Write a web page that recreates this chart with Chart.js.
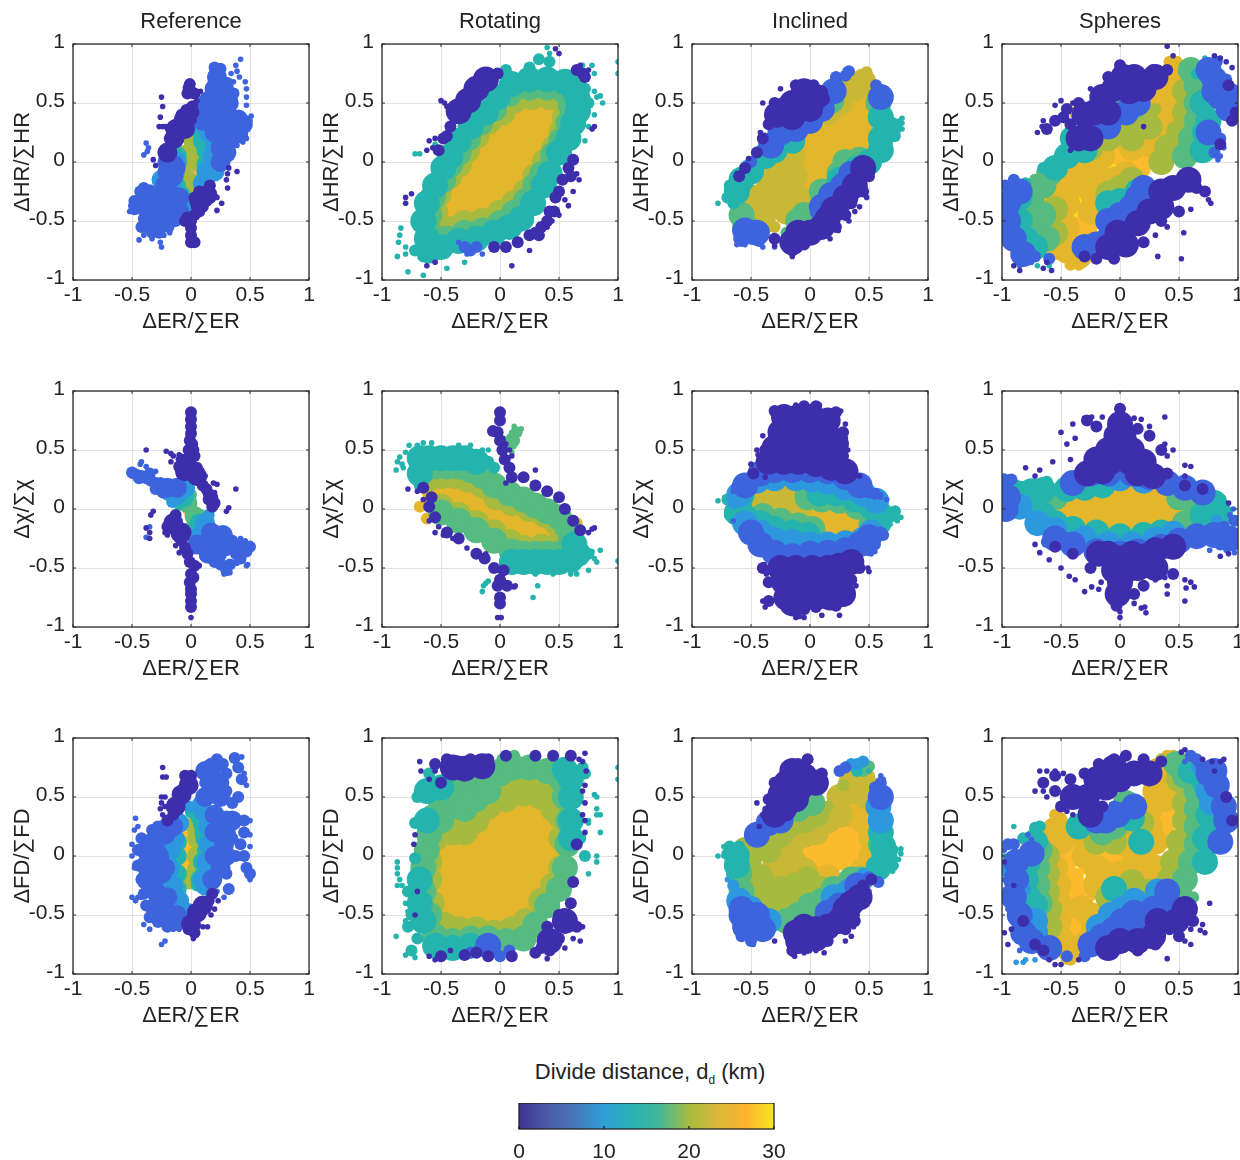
<!DOCTYPE html>
<html>
<head>
<meta charset="utf-8">
<title>Divide asymmetry</title>
<script src="https://cdn.jsdelivr.net/npm/chart.js@4"></script>
<style>
html, body { margin: 0; padding: 0; background: #fff; width: 1240px; height: 1160px; overflow: hidden; }
canvas { position: absolute; filter: blur(0.35px); }
#barTitle { position: absolute; left: 400px; width: 500px; top: 1059px; text-align: center; font: 22px "Liberation Sans", Arial, sans-serif; color: #222; }
#barTitle sub { font-size: 12px; }
</style>
</head>
<body>
<div id="barTitle">Divide distance, d<sub>d</sub> (km)</div>
<script>
const modelNames = ['Reference', 'Rotating', 'Inclined', 'Spheres'];
const xTitle = 'ΔER/∑ER';
const yTitles = ['ΔHR/∑HR', 'Δχ/∑χ', 'ΔFD/∑FD'];
const tickValues = [-1, -0.5, 0, 0.5, 1];
const barTicks = [0, 10, 20, 30];
// colour per divide distance group, low to high (last one sits between olive and gold)
const bandColors = ['#3d2eac', '#3d63dd', '#2e98df', '#25b4ad', '#55bb80', '#a6ba3f', '#e3b62c', '#fcbb2c', '#f7dd20', '#c8b835'];
const barStops = ['#3f3391', '#4a5aa8', '#4878bb', '#2f9fd8', '#26b2b4', '#47b896', '#a5bd40', '#d9b83a', '#fdb42f', '#f5e81e'];

// each row: group, then x,y pairs for dense, medium and sparse parts
const refHR = [
 [0, [-.13,.28,-.06,.36,.14,-.28,.07,-.33,-.14,.2,-.05,.28,-.2,.08], [-.15,.25,-.12,.32,-.08,.35,-.05,.3,-.03,.38,0,.36,.02,.42,-.08,.4,-.14,.18,-.18,.2,-.17,.28,-.11,.2,-.04,.44,.01,.47,-.02,.63,0,.6,-.03,.58,.03,.58,-.01,.66,.03,-.3,.07,-.25,.1,-.3,.13,-.25,.16,-.2,.05,-.38,.1,-.38,.13,-.33,.03,-.45,.07,-.42,0,-.5,-.03,-.47,-.05,-.5,0,-.56,0,-.62,0,-.68,.03,-.68], [-.25,.55,-.24,.47,-.26,.38,-.27,.3,-.24,.3,-.22,.3,.32,-.05,.31,-.1,.3,-.15,.31,-.22,.39,-.08,.22,-.41,.26,-.35,.22,-.3,-.32,.02,-.3,-.03,.05,.52,.02,.56,.08,.6]],
 [1, [-.44,-.36,-.36,-.32,-.28,-.28,-.2,-.22,-.35,-.42,-.27,-.38,-.18,-.32,-.1,-.3,-.3,-.5,-.2,-.45,-.1,-.42,.22,.72,.2,.62,.28,.62,.15,.52,.23,.5,.32,.5,.1,.42,.1,.35,.2,.38,.3,.38,.4,.36,.44,.32,.2,.25,.3,.25,.4,.24,.3,.18,-.15,-.12,.25,.12,-.2,-.08,-.13,-.05,.06,.45,-.2,0,.25,0,.3,.08], [-.48,-.33,-.48,-.4,-.4,-.22,-.4,-.48,-.42,-.55,-.33,-.6,-.36,-.56,-.27,-.6,-.24,-.55,-.19,-.55,-.13,-.5,-.43,-.25,-.35,-.24,-.25,-.18,-.2,-.12,-.15,-.07,-.12,0,.36,.58,.31,.67,.25,.79,.2,.8], [-.44,-.66,-.4,-.62,-.25,-.72,-.26,-.68,-.23,-.62,-.18,-.6,.42,.87,.38,.82,.39,.77,.34,.75,.46,.68,.47,.62,.47,.55,.47,.48,.41,.72,.36,.68,.38,.6,.37,.55,.5,.35,.51,.39,.47,.2,.44,.17,.39,.14,.35,.13,-.38,.16,-.36,.12,-.4,.06,-.37,.09,-.52,-.42,-.51,-.37,-.33,-.65]],
 [2, [-.14,-.1,-.17,-.2,-.1,-.3,.18,.05,.2,.15,.15,.25,.1,.33,-.22,-.28,-.13,-.38,-.05,-.38,-.25,-.15,.25,.05,.25,.2,.2,.32,.15,.38,.08,.42,.02,.35,-.12,0,.13,-.08,.1,-.18,.2,-.08], [-.05,-.42,-.22,-.2,.26,.12,.05,.38,-.18,-.05,.14,-.05], []],
 [3, [-.13,-.2,-.09,-.28,-.15,-.08,-.12,.05,.13,-.02,.13,.1,.1,.18,.08,.28,0,.3], [-.07,-.28,-.13,-.05,.13,0,.05,.3,-.13,.1], []],
 [5, [-.08,-.03,-.06,.06,-.05,-.13,.02,-.18,.06,0,.05,.1,.02,.18,-.03,-.22], [.01,.25,.05,.13,-.05,-.27,-.1,.08], []],
 [7, [-.03,0,-.03,-.06], [-.04,-.13,-.06,.03,-.01,.12,.01,-.03,-.03,.08], []]
];
const rotHR = [
 [0, [-.12,.7,-.2,.62,-.27,.52,-.35,.43], [.47,-.3,.53,-.15,.58,-.05,.42,-.42,.35,-.55,.25,-.62,.15,-.68,.05,-.72,-.05,-.72,.4,-.5,.5,-.25,.3,-.6,-.42,.3,-.45,.22,-.02,.75,-.3,.53,-.48,.2,-.52,.1,.62,.02,.6,-.12,.46,-.42,.33,-.62,.65,.78,.7,.75,.72,.72], [-.5,.52,-.47,.5,-.45,.47,-.6,.18,-.57,.12,-.55,.2,-.75,-.27,-.8,-.3,-.8,-.35,-.62,.1,.65,-.1,.67,-.15,.62,-.25,.58,-.37,.55,-.32,.5,-.45,.44,-.5,.4,-.55,.1,-.88,.5,.92,.47,.96,.75,.78,.68,.82,.8,.3,.78,.28,-.62,-.88,-.55,-.85,.25,-.75]],
 [1, [], [-.3,-.72,-.25,-.75,-.2,-.72], [-.35,-.68,-.15,-.78,-.28,-.78]],
 [3, [-.62,-.65,-.65,-.5,-.62,-.35,-.55,-.2,-.48,-.05,-.42,.05,-.35,.18,-.25,.3,-.12,.42,-.02,.55,.1,.66,.25,.7,.4,.7,.55,.68,.62,.62,.66,.53,.66,.43,.62,.33,.58,.2,.5,.08,.42,-.1,.37,-.2,.28,-.35,.18,-.48,.08,-.55,-.05,-.6,-.2,-.65,-.35,-.67,-.5,-.72,-.6,-.75], [.25,.8,.42,.85,.33,.87,-.72,-.75,-.65,-.8,.05,.78,.75,.5,.72,.62], [-.87,-.8,-.85,-.62,-.86,-.68,-.84,-.56,-.8,-.72,-.8,-.78,-.78,-.93,-.65,-.96,-.55,-.82,-.45,-.9,-.3,-.85,.8,.6,.82,.55,.87,.5,.85,.56,.8,.75,.78,.82,1,.85,1,.75,.8,.4,.75,.3,.72,.18,.42,.92,.4,.97,.7,.82,-.68,.07,-.72,.07,-.55,.15]],
 [4, [-.58,-.62,-.6,-.45,-.57,-.3,-.48,-.15,-.42,-.02,-.35,.08,-.27,.2,-.17,.33,-.05,.45,.08,.58,.25,.63,.4,.63,.55,.6,.6,.48,.58,.33,.52,.18,.45,.06,.36,-.1,.3,-.2,.22,-.33,.12,-.43,0,-.52,-.15,-.58,-.3,-.6,-.45,-.65], [.1,-.55,-.6,-.72,-.48,-.72], []],
 [5, [-.55,-.58,-.55,-.42,-.52,-.27,-.43,-.12,-.35,-.02,-.28,.1,-.2,.22,-.1,.34,.02,.42,.12,.52,.27,.55,.42,.55,.55,.52,.55,.38,.52,.25,.46,.12,.38,0,.3,-.12,.22,-.25,.12,-.35,0,-.43,-.15,-.5,-.3,-.52,-.42,-.57], [-.52,-.68,-.6,-.65], []],
 [6, [-.52,-.45,-.5,-.32,-.42,-.2,-.42,-.42,-.33,-.12,-.33,-.33,-.35,-.48,-.25,-.22,-.22,-.4,-.25,-.05,-.15,.08,-.15,-.08,-.12,-.25,-.05,.22,-.05,.05,-.02,-.12,-.05,-.32,.05,.3,.05,.15,.05,0,.07,-.18,.15,.4,.15,.25,.15,.08,.15,-.08,.25,.45,.25,.3,.25,.15,.22,0,.35,.45,.35,.3,.35,.15,.45,.4,.45,.27,.42,.12,-.45,-.3], [-.52,-.6,-.47,-.62,.4,.5,.52,.45], [-.3,-.12,.1,.3,.3,.42,-.02,.3]],
 [7, [-.5,-.35,-.4,-.3,-.3,-.25,-.2,-.15,-.1,-.05,0,.05,.1,.1,.2,.15,.28,.3,.45,.2], [-.55,-.42,-.42,-.42,-.5,-.25,.15,.3,.38,.15,.52,.3,-.05,.15], []],
 [8, [], [-.45,-.25,-.35,-.2,-.1,0,-.05,.08,.02,-.02,-.18,-.28,.25,.32], [-.4,-.15,-.3,-.3,.1,.2,.3,.1]]
];
const incHR = [
 [0, [-.05,.6,.05,.55,-.15,.5,-.28,.4,-.15,.38,0,.45,-.2,.45,.1,-.55,0,-.6,-.1,-.6,.2,-.4,.3,-.3,.38,-.2,.45,-.05,-.15,-.68,.15,-.48], [-.12,.65,.03,.65,.1,.6,-.3,.5,-.35,.32,-.4,.2,-.45,.08,-.55,-.05,-.6,-.12,.5,-.12,.45,-.25,.35,-.35,.3,-.45,.22,-.55,-.05,-.7,-.15,-.75,-.3,-.65,.12,.53], [-.42,.25,-.52,.03,-.62,-.1,-.15,-.8,-.14,-.76,-.3,-.71,.17,-.65,.2,-.55,.24,-.58,.33,-.5,.38,-.42,.42,-.38,.48,-.3,.5,-.05,-.4,.5,-.25,.62]],
 [1, [-.33,.14,-.25,.25,-.12,.28,0,.35,.1,.45,.2,.6,.28,-.2,.18,-.28,.1,-.38,.35,-.1,-.55,-.58,-.45,-.6,.6,.55], [-.38,.2,-.5,0,-.2,.35,.22,.72,.3,.73,.33,.77,.56,.65,.62,.6,.05,-.43,.22,-.32,-.5,-.65,-.58,-.67,-.6,-.65,-.43,-.67], [-.62,-.7,-.55,-.7,-.4,-.72,-.3,-.72,.3,.78,.25,.7]],
 [3, [-.62,-.25,-.58,-.15,-.5,-.08,-.38,.05,-.3,.1,-.15,.18,.6,.2,.66,.28,.6,.1,.5,0,.4,-.05,.25,-.15,.6,.38], [-.7,-.3,-.68,-.2,-.65,-.35,-.22,.25,.12,-.28,.35,-.1,.7,.33,.72,.22,.72,.28], [.78,.37,.78,.33,.78,.28,.76,.35,.76,.3,-.78,-.35,.42,-.12]],
 [4, [-.15,.3,0,.35,.1,.45,.18,.52,-.05,-.45,.1,-.25,.25,-.1,-.1,-.5,-.55,-.55,-.58,-.45,.3,0,.42,.02,.58,.5], [-.05,.38,.12,.55,-.1,-.58,-.2,-.6,.62,.5,.6,.6,-.6,-.58], []],
 [9, [-.55,-.4,-.5,-.5,-.4,-.5,-.45,-.3,-.35,-.15,-.35,-.35,-.25,-.05,-.25,-.25,-.2,-.42,-.15,.05,-.13,-.12,-.1,-.3,.15,.42,.25,.5,.3,.6,.38,.62,.45,.68], [-.58,-.48,-.3,-.55,.48,.76,.42,.72], []],
 [6, [-.05,.12,0,-.05,0,-.2,.05,.22,.1,.05,.1,-.1,.15,.3,.2,.15,.3,.35,.3,.2,.4,.45,.5,.55,.5,.4,.42,.28,.52,.38,.45,.15], [-.4,-.45,-.25,-.15,-.45,-.25], []],
 [7, [.05,.02,.1,.1,.2,.1,.25,.25,.35,.3,.45,.35], [-.5,-.42,-.55,-.42,-.45,-.5,.38,.42,.5,.42,.4,.55,.08,.18,.18,.22,-.3,-.12,-.4,-.27], []],
 [8, [], [.08,.03,.13,.08,.2,.2,.27,.18], []]
];
const sphHR = [
 [0, [-.3,.4,-.22,.42,-.15,.55,-.05,.62,.03,.72,.08,.6,.2,.62,-.1,.42,-.35,.2,-.25,.2,.3,.72,.05,-.7,-.1,-.72,-.02,-.6,.15,-.52,.25,-.42,.35,-.38,.45,-.22,.58,-.15,.35,-.25,.12,.72], [-.55,.35,-.42,.32,-.48,.38,-.36,.38,.65,-.22,.62,-.15,-.62,.28,-.45,.45,-.35,.5,-.1,.72,0,.82,.1,.77,.28,.78,.4,.78,-.3,-.8,-.2,-.82,-.05,-.82,.2,-.68,.35,-.5,.5,-.42,.72,-.25,.85,.15,.95,.35,.98,.42,.92,.65], [-.66,.3,-.7,.25,-.65,.35,-.55,.48,-.5,.52,-.4,.5,-.25,.62,.8,.9,.85,.88,.9,.85,.95,.8,.4,.98,.45,.9,.32,-.8,.54,-.6,.52,-.82,.3,-.62,.4,-.55,.75,-.32,.77,-.35,.6,-.4,-.65,-.9,-.58,-.92,-.85,-.92,-.9,-.88,-.62,-.85,.2,.3,-.42,.1]],
 [1, [-.95,-.35,-.95,-.5,-.9,-.65,-.85,-.25,-.82,-.78,.8,.7,.85,.55,.92,.45,.95,.55,.8,.6,.75,.78,.75,.25,-.1,-.5,0,-.45,.1,-.38,.15,-.3,.2,-.22,-.2,-.7,-.3,-.72,-.25,.25,-.1,.3,.05,.42,.15,.5], [-.97,-.2,-.9,-.15,-.72,-.8,-.6,-.82,.85,.2,.8,.08,.82,.85,.9,.7,-.15,-.62], [-.85,-.88,-.75,-.85,-.97,-.28,.85,.05,.83,.02,.88,.12]],
 [3, [-.85,-.3,-.85,-.5,-.8,-.65,-.72,-.72,-.55,-.05,-.45,.05,-.3,.1,.7,.1,.7,.5,.75,.35,.72,.25,-.1,-.35,0,-.33,.15,-.25,-.4,.2], [-.8,-.18,.65,.75,.72,.72,-.65,-.05], [-.98,-.4,.72,.88,-.7,-.88,-.6,-.88]],
 [4, [-.75,-.35,-.75,-.5,-.72,-.65,-.65,-.2,-.6,-.1,-.62,-.65,-.65,-.45,.65,.65,.65,.5,.65,.35,.6,.2,.65,.12,.55,.05,.6,.78], [.08,.5,.15,.42,-.72,-.15,-.05,.53,.12,.68], []],
 [5, [-.1,.2,0,.28,.1,.3,.2,.4,.25,.3,.55,.6,.55,.42,.5,.25,.4,.12,.35,0,-.55,-.6,-.55,-.4,-.1,-.27,0,-.22,.1,-.15,-.25,.12,.1,.2], [-.2,.28,-.3,.4,.3,.45,.58,.82], []],
 [6, [-.55,-.15,-.58,-.3,-.55,-.5,-.55,-.72,-.45,-.05,-.45,-.75,-.35,-.8,-.4,-.15,.35,.55,.45,.75,.45,.6,.4,.45,.3,.2,.25,.15,.35,.35,.45,.45,.5,.68,-.15,.05,-.2,-.1,-.3,-.1,-.05,-.15,.05,-.1,-.22,-.3,.1,.12,.2,.25,-.3,-.2,-.25,-.42,-.35,-.05,-.45,-.35,-.45,-.55], [-.62,-.05,-.5,.07,-.38,.42,-.3,.42,-.28,.32,.25,-.4,.28,-.47,.42,.85,.48,.85,-.42,-.87,-.35,-.87], []],
 [7, [-.5,-.3,-.5,-.45,-.5,-.6,-.42,-.68,-.35,-.7,-.3,-.55,-.35,-.15,-.2,-.2,.2,.05,.15,-.05,.1,.05,0,.08,.3,.25,.4,.4,.4,.52], [.45,.55,.5,.55,.05,.15,-.1,-.1,.12,-.1], []],
 [8, [-.4,-.4,-.3,-.35], [-.35,-.25,-.4,-.55,-.28,-.45,-.05,-.05,0,0,.08,.03,-.03,-.1,.04,.1,-.25,-.2,-.36,-.32,.38,.5], []]
];
const refChi = [
 [0, [.05,.28,-.05,.32,-.15,-.12,-.08,-.2], [0,.82,0,.76,0,.7,0,.64,-.01,.58,.01,.55,-.02,.5,.02,.5,-.01,.45,.03,.45,-.08,.42,-.05,.38,-.1,.36,0,.38,.05,.35,-.08,.3,-.03,.3,.03,.3,.08,.25,.1,.2,.13,.17,.15,.13,.18,.1,.2,.05,.18,.02,.15,.08,-.13,-.05,-.17,-.1,-.2,-.15,-.15,-.17,-.12,-.22,-.08,-.27,-.05,-.33,-.03,-.38,-.01,-.45,.03,-.48,0,-.55,.02,-.58,-.01,-.62,0,-.68,0,-.72,0,-.78,0,-.83], [-.38,.5,-.21,.49,-.17,.47,.19,.22,.22,.21,.38,.17,.32,.01,.3,-.02,-.32,-.02,-.34,-.05,-.38,-.16,-.35,-.2,-.35,-.25,-.22,-.2,-.2,-.22,-.13,-.31,-.12,-.26,-.1,-.37,0,-.92,.07,-.48,.09,.33,.12,.28,.2,.14,.17,.05,-.15,.45,-.1,.46,-.17,.4]],
 [1, [-.2,.18,.17,-.2,.2,-.3,.1,-.3,.3,-.3,.15,-.38,.22,-.38,.05,-.3,.27,-.22,-.12,.18], [-.5,.31,-.46,.29,-.42,.28,-.38,.26,-.34,.24,-.3,.22,-.26,.22,-.22,.2,-.18,.18,-.44,.26,-.3,.17,-.24,.14,-.35,.3,.3,-.22,.35,-.27,.4,-.3,.45,-.32,.5,-.32,.47,-.36,.38,-.38,.3,-.35,.25,-.47,.3,-.52,.33,-.47,.2,-.45,.42,-.42,.12,-.4,.26,-.3], [-.5,.28,-.47,.26,-.42,.4,-.43,.38,-.38,.36,-.3,.32,.47,-.48,.48,-.47,.44,-.44,.37,-.45,.39,-.46,.33,-.54,.28,-.55,.5,-.29,.46,-.27,.42,-.25,-.38,-.24,-.35,-.15]],
 [2, [-.12,.12,.12,-.12,.08,-.22,-.05,.18], [-.2,.12,.2,-.18,.25,-.22,-.16,.06,-.06,.17,.15,-.05], []],
 [3, [-.06,.1,.07,-.12], [-.08,.1,.08,-.1,-.1,.04,.09,-.16,-.03,.14,.05,-.18], []],
 [4, [-.03,.05,.03,-.06], [0,.12,.05,-.12,.08,-.05,-.07,.07,0,-.15], []],
 [7, [], [-.03,.03,0,-.03,.03,-.06,-.02,-.01,-.03,.06], []]
];
const rotChi = [
 [0, [], [0,.82,0,.75,-.02,.65,0,.58,-.06,.66,.02,.5,.04,.42,.08,.35,.1,.27,.2,.27,.3,.2,.4,.15,.5,.1,.55,0,.62,-.1,.68,-.18,-.6,.02,-.55,-.07,-.45,-.2,-.35,-.25,-.2,-.38,-.13,-.42,-.65,.18,-.58,.1,-.05,-.5,.03,-.52,0,-.6,-.02,-.65,.06,-.65,0,-.75,0,-.8], [-.78,.17,-.7,.15,-.65,.08,-.6,-.1,-.55,-.2,-.52,-.15,-.48,-.22,-.4,-.25,-.28,-.33,-.12,-.38,.12,-.66,.13,-.65,-.02,-.92,.01,-.92,.78,-.17,.8,-.16,.75,-.2,.02,.6,.05,.55,.08,.5,.1,.45,.3,.33,.05,.22]],
 [3, [-.68,.43,-.6,.43,-.5,.43,-.4,.43,-.3,.43,-.2,.4,-.68,.3,.1,-.45,.2,-.45,.3,-.45,.4,-.45,.5,-.45,.6,-.43,.66,-.38,.63,-.3], [-.1,.4,-.05,.35,.75,-.38,-.68,.2], [-.85,.44,-.87,.4,-.83,.38,-.88,.33,-.8,.48,-.82,.35,-.77,.54,-.7,.54,-.65,.56,-.58,.56,-.35,.54,-.25,.54,-.15,.5,-.1,.5,.8,-.42,.78,-.36,.85,-.35,.82,-.45,.75,-.52,.6,-.55,.65,-.55,.45,-.55,.3,-.55,.28,-.75,.32,-.65,1,-.44,-.12,-.63,-.14,-.65,-.15,-.7,-.1,-.61]],
 [4, [-.65,.33,-.55,.36,-.45,.36,-.35,.36,-.25,.33,-.15,.28,-.05,.2,.08,.13,.2,.08,.3,.03,.4,-.02,.5,-.07,.57,-.15,.6,-.25,.6,-.35,.5,-.38,.4,-.38,.3,-.38,.2,-.38,.1,-.36,-.05,-.27,-.2,-.18,-.35,-.1,-.5,-.03], [.12,.58,.14,.65,.1,.6,.03,.57,.1,.55], [.15,.67,.18,.68,.12,.7,.1,.65,.1,.48]],
 [5, [-.62,.25,-.5,.28,-.38,.28,-.27,.25,-.15,.2,-.03,.1,.1,.05,.25,0,.38,-.05,.48,-.12,.53,-.25,.5,-.32,.35,-.32,.2,-.33,.08,-.28,-.05,-.2,-.2,-.12,-.35,-.05,-.5,.02], [], []],
 [6, [-.55,.15,-.45,.2,-.35,.18,-.25,.15,-.45,.08,-.33,.07,-.2,.05,-.1,.07,-.22,-.04,-.1,-.05,-.05,-.12,0,0,.02,-.13,.12,-.05,.12,-.18,.23,-.08,.23,-.2,.33,-.1,.33,-.22,.43,-.17,.45,-.25,-.55,.07], [.62,-.1,.65,-.12,-.68,.02,-.62,-.08], []],
 [7, [-.4,.13,-.2,.08,0,-.03,.2,-.12], [-.5,.18,-.3,.2,-.1,.05,.1,-.05,.3,-.15,.4,-.15,.05,-.2,-.45,.05,-.25,-.02,.45,-.2,-.55,.18], []],
 [8, [], [-.35,.08,-.2,.1,-.12,.02,-.02,.05,.1,-.1,.18,-.08,.3,-.12,.22,-.15], []]
];
const incChi = [
 [0, [-.22,.78,-.1,.78,.02,.78,.15,.75,-.25,.65,-.12,.65,0,.65,.15,.62,.22,.55,-.3,.52,-.18,.52,-.05,.52,.08,.5,.2,.45,-.35,.4,-.22,.4,-.1,.4,.05,.38,.18,.35,.3,.32,-.25,-.5,-.12,-.5,.02,-.5,.15,-.5,.25,-.48,.35,-.45,-.22,-.62,-.1,-.62,.03,-.62,.15,-.6,.25,-.62,-.2,-.75,-.07,-.75,.05,-.75,.17,-.75,-.15,-.8,.28,-.72], [-.3,.83,-.05,.87,.05,.87,.22,.82,.28,.65,.28,.45,-.38,.5,-.48,.3,-.4,-.5,-.35,-.62,-.35,-.78,.35,-.6,.42,-.5,.22,-.82,-.05,-.85,.05,-.83], [-.12,.88,-.05,.88,.08,.88,.26,.83,.3,.72,.3,.6,.32,.5,.42,.28,-.45,.5,-.44,.46,-.5,.38,-.38,.27,-.4,.62,.5,-.53,.49,-.5,.35,-.7,.39,-.65,-.05,-.92,-.12,-.92,-.09,-.91,.1,-.9,.25,-.9,-.4,-.78,-.38,-.83,-.39,-.47,-.37,-.55]],
 [1, [-.42,.3,-.3,.33,-.15,.33,0,.33,.15,.32,.3,.27,-.55,.2,.42,.2,-.42,-.3,-.3,-.37,-.15,-.4,0,-.38,.15,-.37,.3,-.35,.42,-.3,.5,-.24,-.5,-.2], [.5,.14,.55,.13,.6,-.2,.62,-.22,-.58,.25,-.62,.18,-.3,-.43,.1,-.42,.3,-.4,.5,-.35,.55,-.3], [.52,-.38,.55,-.36,-.65,.15,-.65,-.1,.6,.1,.6,.12,.65,.08]],
 [2, [-.6,.12,-.45,.24,-.3,.26,-.12,.26,.02,.25,.15,.23,.3,.18,.45,.13,.56,.07,-.55,-.12,-.42,-.2,-.3,-.26,-.15,-.28,0,-.3,.15,-.3,.3,-.29,.45,-.26,.52,-.2], [.6,.02,-.65,.05], []],
 [3, [-.6,.05,-.62,-.03,-.55,-.07,-.42,-.12,-.3,-.17,-.15,-.2,-.02,-.22,.08,.13,.22,.13,.38,.08,.52,.02,.6,-.05,.58,-.12,-.58,.12], [-.7,.08,.7,-.06,-.68,-.05,.72,-.02], [-.72,.1,-.78,.07,.77,-.07,.74,-.1,.68,-.13]],
 [4, [-.02,.1,.1,.08,.25,.07,.4,.02,.53,-.04,.52,-.13,-.4,-.06,-.25,-.1,-.1,-.14,.02,-.17], [-.08,.17], []],
 [9, [-.5,.03,-.42,.1,-.32,.12,-.22,.12,-.42,0,-.32,0,-.2,.02,-.12,.08,-.1,-.02], [-.38,.18,-.28,.19,-.15,.14,-.58,.05], []],
 [6, [0,0,.1,0,.2,-.02,.3,-.03,.42,-.05,.5,-.08,.03,-.1,.13,-.13,.23,-.15,.33,-.15,.43,-.15], [], []],
 [7, [.1,-.05,.28,-.06], [.2,-.06,.4,-.05,.25,-.12,.48,-.08,.15,-.02,.35,-.03,-.4,.05,-.5,.02], []]
];
const sphChi = [
 [0, [0,.72,-.03,.62,.03,.6,-.1,.5,0,.5,.1,.5,-.2,.42,-.08,.4,.08,.4,.2,.4,-.28,.3,-.15,.32,.15,.3,.28,.28,-.1,-.38,0,-.42,.1,-.38,.22,-.4,-.18,-.38,-.05,-.52,.05,-.52,0,-.62,-.02,-.72,.15,-.5,.3,-.5,.3,-.35,.45,-.32], [0,.85,-.28,.75,-.2,.7,.15,.68,.25,.62,.35,.5,.4,.3,.55,.2,.7,.17,-.55,-.32,-.4,-.38,-.25,-.5,.45,-.55,.2,-.65,.12,-.72,-.03,-.82], [-.5,.65,-.45,.55,-.38,.6,-.42,.42,-.57,.4,-.68,.33,-.72,.28,-.4,.72,-.3,.77,-.24,.78,-.15,.78,.12,.77,.18,.76,.38,.78,.25,.7,.38,.55,.45,.5,.4,.45,.55,.37,.6,.36,-.8,.35,.55,.28,.92,.05,-.72,-.3,-.68,-.37,-.6,-.43,-.5,-.5,-.43,-.57,-.38,-.6,-.3,-.7,-.24,-.66,-.18,-.68,-.16,-.62,0,-.92,0,-.87,-.02,-.82,.12,-.8,.18,-.84,.21,-.83,.22,-.88,.3,-.6,.38,-.58,.4,-.65,.4,-.72,.55,-.6,.56,-.67,.6,-.62,.63,-.66,.55,-.78,.92,-.38,.85,-.4]],
 [1, [-.4,.22,-.25,.3,-.1,.3,.1,.3,.25,.27,.4,.22,.55,.18,.7,.14,-.55,-.25,-.4,-.3,-.2,-.36,0,-.38,.15,-.36,.35,-.32,.5,-.27,.65,-.23,.8,-.22,.93,-.25,-.95,.1,-.97,0], [-.98,.22,-.92,.25,.85,-.3,.97,-.3,.75,.15,-.62,-.28,.55,-.3,.88,-.15,.97,-.1], [-.98,.28,-.95,.27,.9,-.35,.97,-.37,.96,0,.93,-.05,.76,-.35]],
 [2, [-.85,.02,-.7,-.12,-.55,-.18,-.3,-.25,-.1,-.3,.1,-.3,.3,-.26,.45,-.21,0,.26,.2,.24], [-.95,-.02,-.98,.05,.82,-.1,.62,-.2], []],
 [3, [-.85,.13,-.75,.15,-.65,.16,-.75,.05,-.65,-.05,-.55,-.12,-.9,.1,-.45,.17,-.3,.18,-.15,.2,.7,-.05,.8,.05,.75,-.12,.85,-.05,-.4,-.17,-.2,-.2,0,-.23,.2,-.22,.35,-.2], [-.98,.02,-.88,.2,-.62,.23,.85,.08,.88,-.02,.15,.25], []],
 [4, [-.72,.1,-.62,.1,-.55,.1,.6,.08,.72,.06,.65,-.08,.5,.1,.55,-.12], [-.78,.03,-.7,-.01,.8,-.04,.65,.12], []],
 [6, [-.52,.05,-.45,.08,-.35,.1,-.25,.12,-.45,-.03,-.35,-.06,-.25,-.08,-.15,.13,-.15,0,-.15,-.1,-.02,.13,.1,.13,.22,.12,-.02,0,.1,0,.22,0,.33,.05,.45,.03,.52,-.02,.33,-.06,.45,-.08,0,-.12,.1,-.12,.25,-.1], [.08,.22,.03,.24,.15,.2,.52,.05,-.55,-.03], []],
 [5, [.02,-.05,.12,-.08], [.05,-.03,.18,-.12,-.02,-.15], []],
 [7, [-.4,.03,-.3,.02,.15,.12,.35,-.02], [-.45,.1,-.2,.08,-.1,.14,.02,.18,.25,.08,.45,-.03,.4,.02,-.25,-.1], []],
 [8, [.3,.02], [-.35,.07,-.25,.03,-.12,.1,.12,.12,.05,.1,.2,.04,.28,.06,.36,.03,-.4,0], []]
];
const refFD = [
 [0, [-.02,.6,-.08,.52,-.13,.42,.05,-.48,0,-.58,.1,-.42], [0,.68,-.05,.68,-.15,.35,-.2,.3,.03,-.65,-.02,-.62,.15,-.38,.18,-.32], [-.24,.75,-.24,.67,-.21,.67,-.25,.5,-.22,.5,-.25,.45,-.26,.4,-.22,.42,-.24,.35,.02,-.7,.14,-.6,.17,-.5,.2,-.45,.23,-.38,.1,-.6]],
 [1, [-.38,.05,-.38,-.08,-.38,-.2,-.32,.12,-.3,-.3,-.3,-.45,-.27,0,-.25,-.15,-.2,-.5,-.13,-.55,-.22,.18,.12,.72,.18,.75,.17,.62,.24,.62,.12,.5,.25,.5,.2,.35,.3,.3,.2,.2,.28,.1,.2,0,.25,-.1,.18,-.2,.3,0,-.3,-.15,-.3,.05,-.28,-.4,-.22,-.1,-.2,-.35,-.12,-.5,-.15,.25,.25,.25,.35,.3], [.45,.2,.42,.1,.45,0,.47,-.1,.5,-.15,.45,.3,.38,.3,.35,.15,.38,0,.35,.45,.3,.55,.4,.5,.43,.65,.4,.75,.37,.83,.3,.7,.27,.78,.22,.82,-.45,.05,-.45,-.08,-.42,-.2,-.4,-.32,-.38,-.42,-.35,-.52,-.28,-.56,-.2,-.6,-.42,.15,-.33,.22,-.28,.25,-.15,.3,.33,.2,.3,-.15,.32,-.28,.12,.62], [-.5,.1,-.5,0,-.48,-.1,-.47,.32,-.48,.22,-.5,-.35,-.45,-.35,-.47,-.38,-.42,-.35,-.4,-.58,-.35,-.62,-.25,-.75,-.22,-.72,-.15,-.62,-.1,-.62,.5,.3,.5,.18,.5,.08,.5,-.2,.45,.7,.47,.6,.43,.84,.38,.84,.22,-.3,.28,-.35,-.25,.28,-.45,.25]],
 [2, [-.17,.05,-.18,-.1,-.15,-.25,-.1,-.38,-.08,-.48,.1,.38,.15,.25,.15,.1,.13,-.05,.1,-.2,-.2,-.2,-.14,.15,-.1,.28,.17,.3,.17,-.1,.12,-.25,-.22,0,-.2,-.35], [-.12,.22,-.12,.1,-.02,.42,.06,.45,-.22,-.3,-.02,-.45], []],
 [3, [-.12,-.15,-.12,-.28,.12,.15,.1,.28,.1,-.05,.08,-.2,-.12,0,-.12,.12], [.05,.32,.08,.2,.1,.05,.08,-.15,.05,-.25,-.1,-.32,-.12,-.25,.1,-.1,-.12,.28,0,.37], []],
 [5, [.03,.26,.05,.15,.05,0,.05,-.12,-.02,-.2], [.02,.28,.03,.35,.02,-.18,-.1,-.3,-.1,.28,-.1,-.2], []],
 [7, [-.05,.12,-.05,.03,-.05,-.06,-.05,-.14], [-.08,.25,-.08,-.03,-.09,.22,-.03,-.2], []]
];
const rotFD = [
 [0, [-.3,.74,-.15,.76,-.4,.75,.42,-.72,.55,-.55], [.35,-.78,.5,-.5,.6,-.4,.4,-.6,-.45,.82,-.35,.8,-.25,.82,-.1,.82,.05,.85,.3,.85,.45,.85,.6,.85,-.55,.78,-.5,.62,.42,-.8,.3,-.82,.1,-.85,-.1,-.85,-.2,-.82,-.3,-.84,-.5,-.85,.62,-.22,.65,.1,.65,-.6,.5,-.7], [-.68,.8,-.67,.72,-.55,.72,-.6,.65,.72,.87,.67,.82,.7,.8,.73,.72,.72,.6,.7,.55,.72,.45,.7,.35,.72,.3,.72,.2,.7,-.6,.68,-.72,.62,-.7,.55,-.78,.4,-.87,-.72,.18,-.73,.1,-.7,-.3,-.72,-.5,-.6,-.85,-.55,-.88,-.42,-.8]],
 [1, [-.1,-.76], [-.25,-.82,-.18,-.8,0,-.85,.08,-.8], []],
 [3, [-.62,.55,-.5,.58,-.62,.3,-.65,-.55,-.55,-.76,-.4,-.78,-.25,-.76,.6,.3,.6,.15,.6,.5,.6,.65,.55,.73,-.68,-.4,-.68,-.2], [-.72,-.02,-.78,-.3,-.75,-.5,-.78,-.6,-.7,-.7,-.75,-.8,.68,.15,.72,0,.7,.75,.72,.7,-.7,.5,-.6,.7,-.72,.28], [-.87,-.1,-.87,-.15,-.87,-.05,-.85,-.2,-.83,-.25,-.87,-.25,-.88,-.68,-.8,-.55,-.78,-.47,-.8,-.4,-.8,-.84,-.72,-.86,.75,.3,.75,.28,.85,.2,.85,.35,.82,.35,.82,.4,.8,.52,.82,.5,.75,-.15,.82,0,.82,-.05,1,.75,1,.65,-.68,.6,-.72,.5]],
 [4, [-.35,.55,-.25,.62,-.1,.65,0,.7,.12,.75,.25,.75,.4,.72,.52,.65,.55,.5,.58,.3,.57,.1,.55,-.1,.5,-.28,.4,-.42,.3,-.58,.2,-.7,.05,-.72,-.1,-.7,-.25,-.7,-.4,-.72,-.55,-.68,-.6,-.5,-.65,-.3,-.65,-.1,-.62,.05,-.6,.18,-.5,.3,-.42,.42,-.5,.45,-.3,.4,-.55,.28,-.2,.48,-.1,.55], [-.6,.38,-.45,.55,.3,.84,.02,.82,-.03,.77,.12,.85], []],
 [5, [-.55,.15,-.35,.28,-.22,.4,-.1,.5,.05,.6,.2,.62,.35,.6,.47,.55,.5,.35,.52,.15,.52,-.1,.45,-.25,.35,-.38,.22,-.55,.1,-.62,-.05,-.65,-.2,-.62,-.35,-.62,-.48,-.58,-.58,-.4,-.6,-.2,-.6,-.05,-.4,.2,-.3,.2,-.2,.3,-.1,.42,.05,.48,.2,.53,.35,.5,.45,.4], [.25,.7,.08,.7,.08,-.75], []],
 [6, [-.55,0,-.55,-.15,-.55,-.3,-.48,-.42,-.58,.05,-.5,.1,-.5,-.05,-.5,-.2,-.5,-.35,-.4,.05,-.4,-.1,-.4,-.25,-.38,-.4,-.3,0,-.3,-.15,-.3,-.3,-.3,-.45,-.2,.2,-.2,.05,-.2,-.1,-.2,-.25,-.2,-.4,-.1,.35,-.1,.2,-.1,.05,-.1,-.1,-.1,-.25,-.1,-.45,0,.3,0,.15,0,0,0,-.15,0,-.3,0,-.5,.1,.35,.1,.2,.1,.05,.1,-.1,.1,-.3,.2,.45,.2,.3,.2,.15,.2,0,.2,-.2,.3,.4,.3,.25,.3,.1,.3,-.05,.4,.15,.4,.3,.4,0,.4,-.15,.48,-.05,.45,.1,.1,-.4,.45,.22,.33,-.25,.2,-.38,.05,-.45], [.15,.5,.3,.5,.38,.55,-.55,-.45,-.42,-.48,-.45,.15,-.35,.2], [-.25,-.5,.05,.4,.25,.5]],
 [7, [-.45,-.15,-.35,-.2,-.4,-.3,-.2,-.1,-.05,.1,.1,.1,.3,.2,-.15,.15], [-.5,-.1,-.5,.05,-.3,.1,-.1,-.15,.25,.32,.2,.4,-.1,.3,0,-.05,.4,0,.38,-.12,-.25,-.4,-.35,-.45], []],
 [8, [], [-.42,-.1,-.35,-.05,-.3,-.2,-.12,-.02,.05,.02,.28,.25,-.18,.1], []]
];
const incFD = [
 [0, [-.15,.72,-.05,.68,-.2,.62,-.08,.58,.05,.62,-.25,.52,-.12,.48,-.22,.4,-.3,.35,-.05,-.6,.05,-.62,.15,-.6,.25,-.55,.3,-.45,.35,-.4,.42,-.35,-.1,-.72,.05,-.7,-.12,-.65], [-.1,.78,-.02,.82,-.2,.75,.1,.7,-.3,.62,-.35,.48,.45,-.25,.52,-.2,.38,-.55,.3,-.62,.15,-.72,-.02,-.78,-.15,-.8], [-.4,.35,-.43,.25,-.38,.4,-.45,.45,-.15,-.83,-.13,-.85,-.05,-.82,.05,-.8,.12,-.82,.3,-.72,.35,-.68,.37,-.6,.4,-.5,-.3,-.72]],
 [1, [-.35,.28,-.25,.3,-.45,.18,.6,.5,-.58,-.5,-.55,-.6,-.45,-.5,-.5,-.62,-.4,-.62,.15,-.48,.25,-.42,.4,-.25,-.58,-.45], [.55,.58,.6,.62,.62,.55,.25,.72,.3,.75,-.58,-.68,-.5,-.72,.5,-.18,.58,-.22], [.6,.68,.62,.65,-.48,-.75,.5,-.3,-.63,-.55,-.65,-.45,-.2,.75]],
 [2, [.58,.42,.6,.3,.2,-.35,.33,-.3,-.6,-.38,-.5,-.45,-.35,-.55], [.35,.78,.4,.78,.45,.8,-.65,-.25,.45,-.15], [.3,.78,.42,.8,-.7,-.2]],
 [3, [-.62,0,-.62,-.08,.62,.08,.63,0,.58,-.1,.6,.2], [-.68,.08,-.7,.02,-.66,-.15,.7,.05,.7,-.08,-.6,.08,.4,.72], [-.73,.08,-.73,0,-.78,0,.77,.06,.77,.02,.75,-.03,.73,-.08,.7,-.13,.5,.72]],
 [4, [-.05,.48,.02,.45,-.1,.4,.6,.1,-.1,-.5,0,-.42,.1,-.38,-.2,-.55,.2,-.28,-.58,-.3,-.6,-.15,.35,-.2,.43,-.2], [-.12,-.62,-.17,-.62,.45,.72,.5,.76], []],
 [5, [-.55,.05,-.45,.12,-.35,.2,-.25,.18,-.15,.28,-.05,.3,.05,.35,-.5,-.15,-.5,-.3,-.4,-.3,-.3,-.35,-.2,-.38,-.1,-.35,0,-.28,.1,-.28,-.52,-.05,-.35,.05,-.42,-.18,-.25,-.28,-.12,-.25,-.02,-.2], [-.42,-.42,-.32,-.48,-.3,-.55,.15,.42,.28,.6], []],
 [9, [-.25,.05,-.15,.12,-.05,.18,.05,.2,-.3,-.1,-.18,-.15,-.15,-.03,-.05,-.12,.15,.3,.25,.35,.25,.5,.38,.55,.35,.62,.45,.63,.48,.5], [.42,.68,.46,.72,.5,.68,-.4,-.5,.3,-.2,-.5,-.5], []],
 [6, [.05,-.2,.15,-.18,.35,.35,.45,.3,.52,.15,.52,0,.45,-.12], [], []],
 [7, [-.05,.05,.05,.05,.15,.1,.25,.15,.35,.15,.1,-.08,.22,-.02,.33,-.02,.42,.05,.4,.22], [-.2,.15,-.12,.2,.1,.22,.33,.35,.4,.38,.48,.2], []],
 [8, [], [.18,.02,.28,.05,.22,-.07,.12,0,.05,-.03], []]
];
const sphFD = [
 [0, [-.4,.5,-.28,.5,-.12,.58,0,.65,.12,.7,.25,.7,-.05,.75,-.2,.65,.32,-.55,.28,-.68,.15,-.72,0,-.72,-.1,-.78,.55,-.45,.48,-.55,-.25,.35], [-.55,.55,.42,-.62,-.65,.62,-.55,.68,-.42,.65,-.3,.7,-.18,.78,-.05,.82,.05,.85,.2,.82,.35,.8,-.5,.42,-.15,.42,.62,-.55,.5,-.68,.3,-.75,.15,-.8,-.65,-.8,-.72,-.75,-.82,-.55,.9,.5,.95,.3], [-.68,.72,-.62,.72,-.55,.72,-.48,.7,-.65,.55,-.62,.5,-.72,.55,-.45,.38,-.4,.35,.7,.82,.78,.8,.85,.8,.88,.82,.8,.72,.55,.9,.52,.88,.68,-.63,.72,-.65,.7,-.58,.6,-.62,.55,-.72,.76,-.4,-.95,-.75,-.98,-.65,-.92,-.62,-.98,-.05,-.9,-.25,.4,-.87,.6,-.75,-.6,-.88,-.55,-.92,-.5,-.92,-.35,-.88]],
 [1, [-.88,-.05,-.88,-.2,-.9,-.35,-.85,-.5,-.82,-.65,-.75,.02,-.75,-.72,-.6,-.78,-.12,.3,-.02,.35,.12,.42,.75,.7,.82,.6,.88,.42,.9,.3,.85,.12,.8,.72,.02,-.55,.12,-.48,-.05,-.62,.15,-.6,.28,-.45,.4,-.3,.42,-.42,-.15,-.68,-.25,-.75,-.2,.3], [-.95,.1,-.95,-.3,-.9,.1,-.05,.42,.02,.6,.68,.78,-.45,-.85,-.3,-.85,.65,.82,.6,.85], [-.98,.05,-.98,-.2,-.95,-.45,-.75,.14,-.78,.18,-.85,-.8,.55,.8,.85,.2]],
 [2, [.02,-.45,.12,-.38,-.08,-.5,-.18,-.6,.32,-.3,-.72,-.55,-.72,-.65,.75,.55,.78,.45], [-.98,-.12,-.85,-.4,.65,.75,-.8,-.28], [-.88,-.9,-.82,-.9,-.8,-.88,-.72,-.88]],
 [3, [-.72,.12,-.78,-.05,-.8,-.2,-.78,-.35,-.72,-.42,.72,.62,.75,.35,.72,.15,.72,-.05,.6,.72,-.05,-.28,.18,.12,.1,.32,-.35,.25], [-.28,.5,-.82,.15,-.72,.24,-.68,.25,-.88,-.15,.8,.22,.8,.1], [-.9,.25,-.98,0,-.98,-.1]],
 [4, [-.68,.05,-.7,-.1,-.7,-.25,-.68,-.4,.65,.55,.65,.4,.65,.25,.65,.1,.6,-.05,.55,-.2,.5,-.3,.55,.68,.48,.78,-.05,.25,.05,.45,.1,.38,-.15,.2], [.62,-.35,.55,-.4,.5,-.38,.6,.78,-.12,.3], []],
 [5, [-.62,0,-.62,-.15,-.62,-.3,-.6,-.45,-.6,-.6,.5,.65,.55,.45,.55,.3,.5,.12,.45,-.05,.42,-.2,.1,-.22,0,-.3,.05,-.38,-.1,-.35,.25,-.3,-.05,.12,0,.28,.18,.28,-.2,.12,-.1,.15,.15,-.3], [-.65,-.6,.35,.82,.42,.82], []],
 [6, [-.55,-.1,-.52,-.25,-.52,-.4,-.52,-.55,-.5,-.7,-.42,-.8,-.3,-.75,-.25,-.5,-.22,-.62,-.5,.12,-.55,.22,.32,.72,.42,.72,.4,.6,.38,.48,.3,.55,.25,.4,.25,.25,.3,.12,.2,-.2,.3,-.1,.12,.18,-.12,-.15,-.3,0,-.3,.15,-.2,-.1,-.2,-.25,0,-.15,.1,-.1,.05,.1,.2,.05,.2,-.08,-.33,-.44], [-.5,.32,-.55,.35,-.45,-.87,-.42,-.88,.4,.85,.45,.85,.35,.8,-.2,-.52,.3,-.42,.32,-.5,-.3,.38], []],
 [7, [-.45,0,-.42,-.2,-.42,-.35,-.4,-.5,-.35,-.65,-.3,-.3,-.15,-.02,-.05,0,.05,0,.15,.02,.12,-.1,.35,.25,.38,.38,.45,.5,.3,.35,.2,.15], [-.45,.15,-.48,.28,.4,.15,.45,.3,-.3,-.1,-.25,-.2,.02,.12,.08,.15], []],
 [8, [-.38,-.42], [-.42,-.08,-.38,-.28,-.35,-.55,-.32,-.5,-.28,-.38,-.05,-.05,-.02,-.1,.05,-.05,.3,.3,.32,.25,.38,.32,.12,.02,-.35,-.15], []]
];

const panels = [refHR, rotHR, incHR, sphHR, refChi, rotChi, incChi, sphChi, refFD, rotFD, incFD, sphFD];

// plot box positions on the page
const plotLefts = [73, 382, 692, 1002];
const plotTops = [44, 391, 738];
const plotSize = 236;
const leftRoom = 73, topRoom = 44, rightRoom = 14, bottomRoom = 60;
const fontFam = '"Liberation Sans", Arial, sans-serif';
const inkColor = '#222';

function toPoints(flat) {
    const out = [];
    for (let i = 0; i < flat.length; i += 2) out.push({ x: flat[i], y: flat[i + 1] });
    return out;
}

function buildDatasets(rows, col) {
    const sizes = [col === 0 ? 10 : 13, 6, 2.8];
    const ds = [];
    rows.forEach(row => {
        sizes.forEach((r, k) => {
            ds.push({ data: toPoints(row[k + 1]), pointRadius: r, pointBorderWidth: 0, backgroundColor: bandColors[row[0]] });
        });
    });
    return ds;
}

// matlab style frame with short inward ticks
const framePlugin = {
    id: 'frame',
    afterDraw(chart) {
        const { ctx, chartArea: a, scales } = chart;
        ctx.save();
        ctx.strokeStyle = '#2b2b2b';
        ctx.lineWidth = 1.3;
        ctx.strokeRect(a.left, a.top, a.right - a.left, a.bottom - a.top);
        ctx.lineWidth = 1;
        tickValues.forEach(v => {
            const px = scales.x.getPixelForValue(v), py = scales.y.getPixelForValue(v);
            ctx.beginPath();
            ctx.moveTo(px, a.top); ctx.lineTo(px, a.top + 3);
            ctx.moveTo(px, a.bottom); ctx.lineTo(px, a.bottom - 3);
            ctx.moveTo(a.left, py); ctx.lineTo(a.left + 3, py);
            ctx.moveTo(a.right, py); ctx.lineTo(a.right - 3, py);
            ctx.stroke();
        });
        ctx.restore();
    }
};

panels.forEach((rows, i) => {
    const col = i % 4, row = Math.floor(i / 4);
    const canvas = document.createElement('canvas');
    canvas.width = leftRoom + plotSize + rightRoom;
    canvas.height = topRoom + plotSize + bottomRoom;
    canvas.style.left = (plotLefts[col] - leftRoom) + 'px';
    canvas.style.top = (plotTops[row] - topRoom) + 'px';
    document.body.appendChild(canvas);
    const tickFont = { family: fontFam, size: 21 };
    const setTicks = s => { s.ticks = tickValues.map(v => ({ value: v })); };
    new Chart(canvas.getContext('2d'), {
        type: 'scatter',
        data: { datasets: buildDatasets(rows, col) },
        plugins: [framePlugin],
        options: {
            responsive: false,
            animation: false,
            events: [],
            layout: { padding: { top: row === 0 ? 0 : topRoom, right: rightRoom } },
            plugins: {
                legend: { display: false },
                tooltip: { enabled: false },
                title: {
                    display: row === 0,
                    fullSize: false,
                    text: modelNames[col],
                    color: inkColor,
                    font: { family: fontFam, size: 22, weight: 'normal' },
                    padding: { top: 9, bottom: 8.6 }
                }
            },
            scales: {
                x: {
                    type: 'linear', min: -1, max: 1,
                    afterBuildTicks: setTicks,
                    afterFit: s => { s.height = bottomRoom; },
                    grid: { color: '#e2e2e2', drawTicks: false },
                    border: { display: false },
                    ticks: { autoSkip: false, maxRotation: 0, padding: 3, color: inkColor, font: tickFont, callback: v => String(v) },
                    title: { display: true, text: xTitle, color: inkColor, font: { family: fontFam, size: 22 }, padding: { top: 0, bottom: 5 } }
                },
                y: {
                    type: 'linear', min: -1, max: 1,
                    afterBuildTicks: setTicks,
                    afterFit: s => { s.width = leftRoom; },
                    grid: { color: '#e2e2e2', drawTicks: false },
                    border: { display: false },
                    ticks: { autoSkip: false, padding: 8, labelOffset: -2, color: inkColor, font: tickFont, callback: v => String(v) },
                    title: { display: true, text: yTitles[row], color: inkColor, font: { family: fontFam, size: 22 }, padding: { top: 10, bottom: 0 } }
                }
            }
        }
    });
});

// colour bar: one bar from 0 to 30 painted with the colour ramp
const barCanvas = document.createElement('canvas');
barCanvas.width = 300; barCanvas.height = 70;
barCanvas.style.left = '494px'; barCanvas.style.top = '1103px';
document.body.appendChild(barCanvas);
new Chart(barCanvas.getContext('2d'), {
    type: 'bar',
    data: {
        labels: ['d'],
        datasets: [{
            data: [[barTicks[0], barTicks[3]]],
            barPercentage: 1, categoryPercentage: 1,
            backgroundColor: c => {
                const a = c.chart.chartArea;
                if (!a) return barStops[0];
                const g = c.chart.ctx.createLinearGradient(a.left, 0, a.right, 0);
                barStops.forEach((col, k) => g.addColorStop(k / (barStops.length - 1), col));
                return g;
            }
        }]
    },
    plugins: [{
        id: 'barFrame',
        afterDraw(chart) {
            const { ctx, chartArea: a, scales } = chart;
            ctx.save();
            ctx.strokeStyle = '#222';
            ctx.lineWidth = 1.3;
            ctx.strokeRect(a.left, a.top, a.right - a.left, a.bottom - a.top);
            barTicks.forEach(v => {
                const px = scales.x.getPixelForValue(v);
                ctx.beginPath(); ctx.moveTo(px, a.bottom); ctx.lineTo(px, a.bottom - 3); ctx.stroke();
            });
            ctx.restore();
        }
    }],
    options: {
        indexAxis: 'y',
        responsive: false,
        animation: false,
        events: [],
        layout: { padding: { left: 25, right: 20 } },
        plugins: { legend: { display: false }, tooltip: { enabled: false } },
        scales: {
            x: {
                type: 'linear', min: 0, max: 30,
                afterBuildTicks: s => { s.ticks = barTicks.map(v => ({ value: v })); },
                afterFit: s => { s.height = 44; },
                grid: { display: false },
                border: { display: false },
                ticks: { autoSkip: false, maxRotation: 0, padding: 3, color: inkColor, font: { family: fontFam, size: 21 } }
            },
            y: { display: false }
        }
    }
});
</script>
</body>
</html>
